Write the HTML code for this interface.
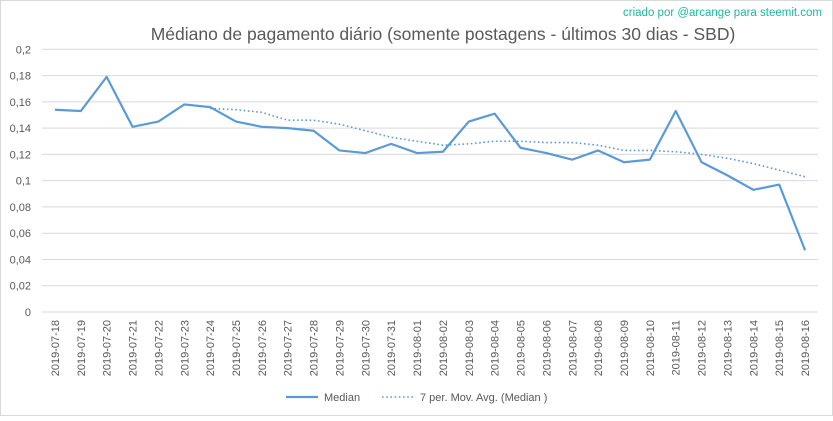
<!DOCTYPE html>
<html><head><meta charset="utf-8"><style>
body{margin:0;background:#fff;}
svg text{font-family:"Liberation Sans",sans-serif;}
</style></head><body>
<svg id="chart" width="833" height="416" xmlns="http://www.w3.org/2000/svg">
<rect x="0.5" y="0.5" width="832" height="415" fill="#fff" stroke="#d9d9d9"/>
<text x="443" y="40" text-anchor="middle" font-size="17.5" fill="#595959">Médiano de pagamento diário (somente postagens - últimos 30 dias - SBD)</text>
<text x="822" y="16" text-anchor="end" font-size="11.5" fill="#1fb5a0">criado por @arcange para steemit.com</text>
<g id="grid"></g><g id="yticks"></g><g id="xticks"></g>
<path id="ma" fill="none" stroke="#5b9bd5" stroke-width="1.6" stroke-dasharray="1.6 2.6"/>
<path id="med" fill="none" stroke="#5b9bd5" stroke-width="2.2" stroke-linejoin="round"/>
<g>
<line x1="286" y1="397" x2="318" y2="397" stroke="#5b9bd5" stroke-width="2.2"/>
<text x="324" y="401" font-size="11" fill="#595959">Median</text>
<line x1="382" y1="397" x2="414" y2="397" stroke="#5b9bd5" stroke-width="1.6" stroke-dasharray="1.6 2.6"/>
<text x="420" y="401" font-size="11" fill="#595959">7 per. Mov. Avg. (Median )</text>
</g>
</svg>
<script>
const categories=["2019-07-18","2019-07-19","2019-07-20","2019-07-21","2019-07-22","2019-07-23","2019-07-24","2019-07-25","2019-07-26","2019-07-27","2019-07-28","2019-07-29","2019-07-30","2019-07-31","2019-08-01","2019-08-02","2019-08-03","2019-08-04","2019-08-05","2019-08-06","2019-08-07","2019-08-08","2019-08-09","2019-08-10","2019-08-11","2019-08-12","2019-08-13","2019-08-14","2019-08-15","2019-08-16"];
const medianValues=[0.154,0.153,0.179,0.141,0.145,0.158,0.156,0.145,0.141,0.140,0.138,0.123,0.121,0.128,0.121,0.122,0.145,0.151,0.125,0.121,0.116,0.123,0.114,0.116,0.153,0.114,0.104,0.093,0.097,0.047];
const movingAvgValues=[null,null,null,null,null,null,0.155,0.154,0.152,0.146,0.146,0.143,0.138,0.133,0.130,0.127,0.128,0.130,0.130,0.129,0.129,0.127,0.123,0.123,0.122,0.120,0.117,0.113,0.108,0.103];
const yTicks=[0,0.02,0.04,0.06,0.08,0.1,0.12,0.14,0.16,0.18,0.2];
const yTickLabels=["0","0,02","0,04","0,06","0,08","0,1","0,12","0,14","0,16","0,18","0,2"];
const L=42,R=818,Y0=312,Y1=49.3,YMAX=0.2;
const band=(R-L)/categories.length;
const x=i=>L+band*(i+0.5);
const y=v=>Y0-(v/YMAX)*(Y0-Y1);
const NS="http://www.w3.org/2000/svg";
const mk=(t,a,p)=>{const e=document.createElementNS(NS,t);for(const k in a)e.setAttribute(k,a[k]);p.appendChild(e);return e;};
const grid=document.getElementById('grid'),yt=document.getElementById('yticks'),xt=document.getElementById('xticks');
yTicks.forEach((v,i)=>{
 const l=mk('line',{x1:L,x2:R,y1:y(v),y2:y(v),stroke:'#d9d9d9','stroke-width':1},grid);
 
 
 const t=mk('text',{x:31,y:y(v)+4,'text-anchor':'end','font-size':11,fill:'#595959'},yt);
 t.textContent=yTickLabels[i];
 
 
});
categories.forEach((c,i)=>{
 const t=mk('text',{transform:`translate(${x(i)+4},${y(0)+8}) rotate(-90)`,'text-anchor':'end','font-size':11,fill:'#595959'},xt);
 t.textContent=c;
 
 
});
document.getElementById('med').setAttribute('d',medianValues.map((v,i)=>(i?'L':'M')+x(i)+' '+y(v)).join(' '));
let d='';movingAvgValues.forEach((v,i)=>{if(v==null)return;d+=(d?'L':'M')+x(i)+' '+y(v)+' ';});
document.getElementById('ma').setAttribute('d',d);
</script>
</body></html>
